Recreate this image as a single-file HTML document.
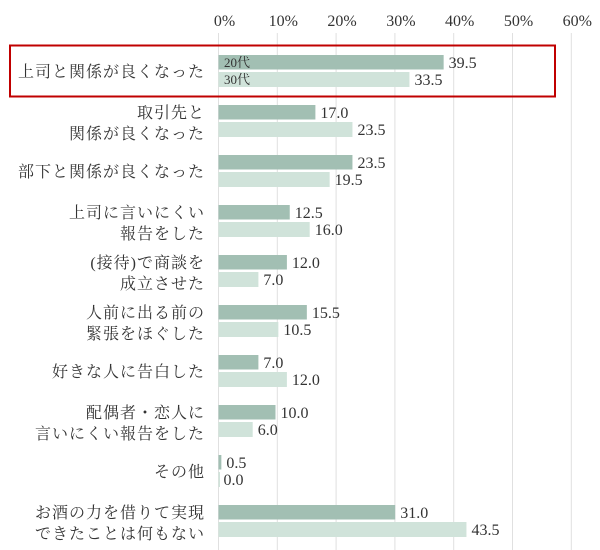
<!DOCTYPE html>
<html><head><meta charset="utf-8">
<style>
html,body{margin:0;padding:0;background:#fff;}
svg{display:block;}
text{font-family:"Liberation Serif","Noto Serif CJK SC",serif;fill:#333;}
</style></head>
<body>
<svg id="chart" width="600" height="550" viewBox="0 0 600 550"></svg>
<script>
const categories = [
  ["上司と関係が良くなった"],
  ["取引先と","関係が良くなった"],
  ["部下と関係が良くなった"],
  ["上司に言いにくい","報告をした"],
  ["(接待)で商談を","成立させた"],
  ["人前に出る前の","緊張をほぐした"],
  ["好きな人に告白した"],
  ["配偶者・恋人に","言いにくい報告をした"],
  ["その他"],
  ["お酒の力を借りて実現","できたことは何もない"]
];
const series20 = [39.5,17.0,23.5,12.5,12.0,15.5,7.0,10.0,0.5,31.0];
const series30 = [33.5,23.5,19.5,16.0,7.0,10.5,12.0,6.0,0.0,43.5];
const ticks = [0,10,20,30,40,50,60];
const tickLabels = ["0%","10%","20%","30%","40%","50%","60%"];

const NS="http://www.w3.org/2000/svg";
const svg=document.getElementById('chart');
const x0=218.5;
function gx(v){return x0+v*5.88;}
function bx(v){return v*5.7;}
function rowY(i){return 55+50*i;}
function mk(tag,attrs,parent){const e=document.createElementNS(NS,tag);for(const k in attrs)e.setAttribute(k,attrs[k]);(parent||svg).appendChild(e);return e;}

ticks.forEach((t,i)=>{
  const l=mk('line',{x1:gx(t),x2:gx(t),y1:33,y2:550,stroke:'#e0e0e0','stroke-width':1});
  
  
  const tx=mk('text',{x:gx(t)+6,y:26,'text-anchor':'middle','font-size':16});
  tx.textContent=tickLabels[i];
  
  
});

categories.forEach((lines,i)=>{
  const y=rowY(i);
  const b1=mk('rect',{x:x0,y:y,width:bx(series20[i]),height:14.5,fill:'#a2bfb3'});
  
  
  const b2=mk('rect',{x:x0,y:y+17,width:Math.max(bx(series30[i]),1.5),height:15,fill:'#d0e3da'});
  
  
  const v1=mk('text',{x:x0+bx(series20[i])+5,y:y+13,'font-size':16});
  v1.textContent=series20[i].toFixed(1);
  
  
  const v2=mk('text',{x:x0+bx(series30[i])+5,y:y+30,'font-size':16});
  v2.textContent=series30[i].toFixed(1);
  
  
  const cy=y+16;
  lines.forEach((ln,j)=>{
    const t=mk('text',{x:205,y:lines.length===1?cy+6:(j===0?cy-3:cy+18),'text-anchor':'end','font-size':16,'letter-spacing':1});
    t.textContent=ln;
    
    
  });
});

const lg1=mk('text',{x:224,y:67,'font-size':13});
lg1.textContent='20代';


const lg2=mk('text',{x:224,y:84,'font-size':13});
lg2.textContent='30代';



const box=mk('rect',{x:10,y:45.5,width:545,height:51,fill:'none',stroke:'#c00000','stroke-width':2});


</script>
</body></html>
